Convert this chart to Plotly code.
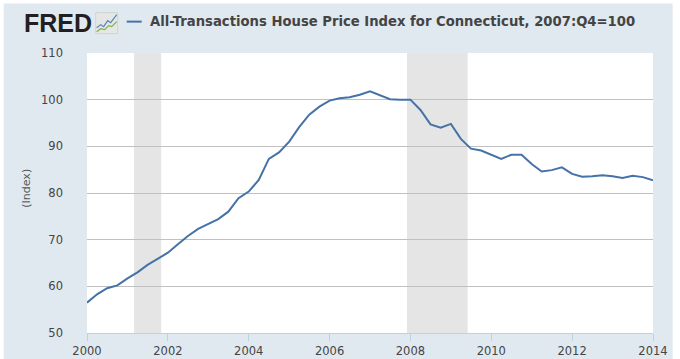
import plotly.graph_objects as go

# ---- data ----
dates = [f"{y}-{m:02d}-01" for y in range(2000, 2014) for m in (1, 4, 7, 10)] + ["2014-01-01"]
values = [56.5, 58.3, 59.6, 60.2, 61.7, 63.0, 64.6, 65.9,
          67.2, 69.0, 70.8, 72.3, 73.3, 74.4, 76.0, 78.9,
          80.3, 82.8, 87.3, 88.7, 91.0, 94.1, 96.8, 98.5,
          99.8, 100.3, 100.5, 101.05, 101.8, 101.0, 100.1, 100.0,
          100.0, 97.8, 94.7, 94.0, 94.8, 91.6, 89.5, 89.1,
          88.2, 87.3, 88.2, 88.2, 86.2, 84.6, 84.9, 85.5,
          84.1, 83.5, 83.6, 83.8, 83.6, 83.2, 83.7, 83.4, 82.7]
recession_starts = ["2001-03-01", "2007-12-01"]
recession_ends = ["2001-11-01", "2009-06-01"]
series_name = "All-Transactions House Price Index for Connecticut, 2007:Q4=100"
y_label = "(Index)"

W, H = 680, 359
L, R, T, B = 87.3, 26.7, 53.3, 26.3
pw, ph = W - L - R, H - T - B

def px(x):
    return (x - L) / pw

def py(y):
    return (H - B - y) / ph

fig = go.Figure()
fig.add_trace(go.Scatter(x=dates, y=values, mode="lines", name=series_name,
                         line=dict(color="#4572A7", width=2), showlegend=False))

shapes = []
# outer panel background
shapes.append(dict(type="rect", xref="paper", yref="paper", x0=px(4), x1=px(673),
                   y0=py(4), y1=py(362), fillcolor="#E1E9F0", line=dict(width=0), layer="below"))
# plot area white
shapes.append(dict(type="rect", xref="paper", yref="paper", x0=0, x1=1, y0=0, y1=1,
                   fillcolor="white", line=dict(width=0), layer="below"))
for s, e in zip(recession_starts, recession_ends):
    shapes.append(dict(type="rect", xref="x", yref="paper", x0=s, x1=e, y0=0, y1=1,
                       fillcolor="#E5E5E5", line=dict(width=0), layer="below"))
# legend dash
shapes.append(dict(type="line", xref="paper", yref="paper", x0=px(127), x1=px(142),
                   y0=py(22), y1=py(22), line=dict(color="#4572A7", width=2)))
# logo icon
shapes.append(dict(type="rect", xref="paper", yref="paper", x0=px(96), x1=px(118),
                   y0=py(13), y1=py(34), fillcolor="#E4E7E4", line=dict(color="#D0D4D0", width=1)))
def path(pts):
    return "M " + " L ".join(f"{px(a)},{py(b)}" for a, b in pts)
shapes.append(dict(type="path", xref="paper", yref="paper",
                   path=path([(97, 28), (101, 25), (104, 27), (108, 21), (111, 23), (117, 15)]),
                   line=dict(color="#5B86B8", width=1.2)))
shapes.append(dict(type="path", xref="paper", yref="paper",
                   path=path([(97, 32), (101, 29), (105, 30), (109, 26), (112, 27), (117, 22)]),
                   line=dict(color="#7DB24A", width=1.2)))

annotations = [
    dict(xref="paper", yref="paper", x=px(148), y=py(22), xanchor="left", yanchor="middle",
         text=series_name, showarrow=False,
         font=dict(family="DejaVu Sans", size=13.2, color="#444444", weight="bold")),
    dict(xref="paper", yref="paper", x=px(22), y=py(23.5), xanchor="left", yanchor="middle",
         text="FRED", showarrow=False,
         font=dict(family="Liberation Sans", size=25, color="#231F20", weight="bold")),
    dict(xref="paper", yref="paper", x=px(27), y=py(188), xanchor="center", yanchor="middle",
         text=y_label, textangle=-90, showarrow=False,
         font=dict(family="DejaVu Sans", size=11, color="#555555")),
]

fig.update_layout(
    width=W, height=H,
    margin=dict(l=L, r=R, t=T, b=B, pad=0, autoexpand=False),
    paper_bgcolor="white", plot_bgcolor="rgba(0,0,0,0)",
    shapes=shapes, annotations=annotations,
    font=dict(family="DejaVu Sans", size=11, color="#444444"),
    xaxis=dict(type="date", range=["2000-01-01", "2014-01-01"], dtick="M24", tickformat="%Y",
               tick0="2000-01-01", showgrid=False, showline=True, linecolor="#C0D0E0", linewidth=1,
               ticks="outside", ticklen=7, tickcolor="#C0D0E0", zeroline=False, automargin=False,
               tickfont=dict(size=11.5, color="#444444")),
    yaxis=dict(range=[50, 110], dtick=10, showgrid=True, gridcolor="#C0C0C0", gridwidth=1,
               zeroline=False, showline=False, ticks="", ticklabelstandoff=23, automargin=False,
               tickfont=dict(size=11.5, color="#444444")),
)

fig.write_html("out.html", config={"displayModeBar": False},
               post_script="document.body.style.margin='0px';")
